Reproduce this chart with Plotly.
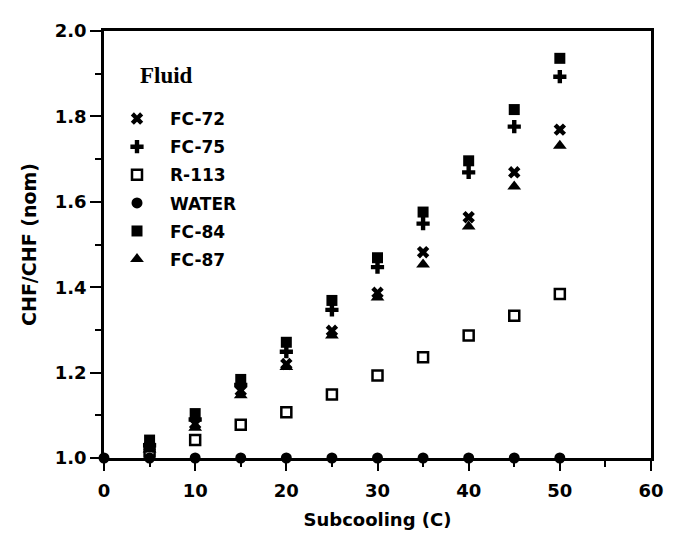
import plotly.graph_objects as go

subcooling = [5, 10, 15, 20, 25, 30, 35, 40, 45, 50]
water_x = [0, 5, 10, 15, 20, 25, 30, 35, 40, 45, 50]

fc72 = [1.027, 1.080, 1.158, 1.220, 1.298, 1.387, 1.482, 1.564, 1.669, 1.769]
fc75 = [1.030, 1.090, 1.171, 1.249, 1.347, 1.447, 1.549, 1.669, 1.776, 1.893]
r113 = [1.015, 1.042, 1.078, 1.107, 1.149, 1.193, 1.236, 1.287, 1.333, 1.384]
water = [1.0, 1.0, 1.0, 1.0, 1.0, 1.0, 1.0, 1.0, 1.0, 1.0, 1.0]
fc84 = [1.042, 1.104, 1.184, 1.271, 1.369, 1.469, 1.576, 1.696, 1.816, 1.936]
fc87 = [1.020, 1.071, 1.147, 1.213, 1.287, 1.376, 1.453, 1.542, 1.636, 1.731]

series = [
    ("FC-72", subcooling, fc72, dict(symbol="x", size=11, color="black")),
    ("FC-75", subcooling, fc75, dict(symbol="cross", size=11, color="black")),
    ("R-113", subcooling, r113, dict(symbol="square-open", size=10, color="black",
                                     line=dict(width=2.5, color="black"))),
    ("WATER", water_x, water, dict(symbol="circle", size=11, color="black")),
    ("FC-84", subcooling, fc84, dict(symbol="square", size=11, color="black")),
    ("FC-87", subcooling, fc87, dict(symbol="triangle-up", size=12, color="black")),
]

fig = go.Figure()
for i, (name, xs, ys, mk) in enumerate(series):
    fig.add_trace(go.Scatter(x=xs, y=ys, mode="markers", name=name, marker=mk,
                             cliponaxis=False, legendgroup=f"g{i}"))

tickfont = dict(family="DejaVu Sans", size=18, color="black", weight="bold")

fig.update_layout(
    width=668, height=532,
    margin=dict(l=96, r=12, t=16, b=66),
    paper_bgcolor="white", plot_bgcolor="white",
    showlegend=True,
    legend=dict(x=0.0, y=0.836, xanchor="left", yanchor="top",
                bgcolor="rgba(0,0,0,0)", itemwidth=56, tracegroupgap=3,
                traceorder="grouped",
                font=dict(family="DejaVu Sans", size=17, color="black", weight="bold")),
    xaxis=dict(range=[0, 60], tickvals=[0, 10, 20, 30, 40, 50, 60],
               ticks="outside", ticklen=10, tickwidth=2, tickcolor="black",
               ticklabelstandoff=5, ticklabeloverflow="allow",
               minor=dict(dtick=5, ticks="outside", ticklen=6, tickwidth=2, tickcolor="black"),
               showline=True, linewidth=2.5, linecolor="black", mirror=True,
               showgrid=False, zeroline=False, tickfont=tickfont,
               title=dict(text="Subcooling (C)", standoff=14,
                          font=dict(family="DejaVu Sans", size=18, color="black", weight="bold"))),
    yaxis=dict(range=[1.0, 2.0], tickvals=[1.0, 1.2, 1.4, 1.6, 1.8, 2.0],
               tickformat=".1f",
               ticks="outside", ticklen=11, tickwidth=2, tickcolor="black",
               minor=dict(dtick=0.1, ticks="outside", ticklen=6, tickwidth=2, tickcolor="black"),
               showline=True, linewidth=2.5, linecolor="black", mirror=True,
               showgrid=False, zeroline=False, tickfont=tickfont,
               title=dict(text="CHF/CHF (nom)", standoff=14,
                          font=dict(family="DejaVu Sans", size=19, color="black", weight="bold"))),
    annotations=[dict(text="Fluid", xref="paper", yref="paper", x=0.115, y=0.896,
                      xanchor="center", yanchor="middle", showarrow=False,
                      font=dict(family="Liberation Serif", size=23, color="black", weight="bold"))],
)

fig.write_html("out.html")
